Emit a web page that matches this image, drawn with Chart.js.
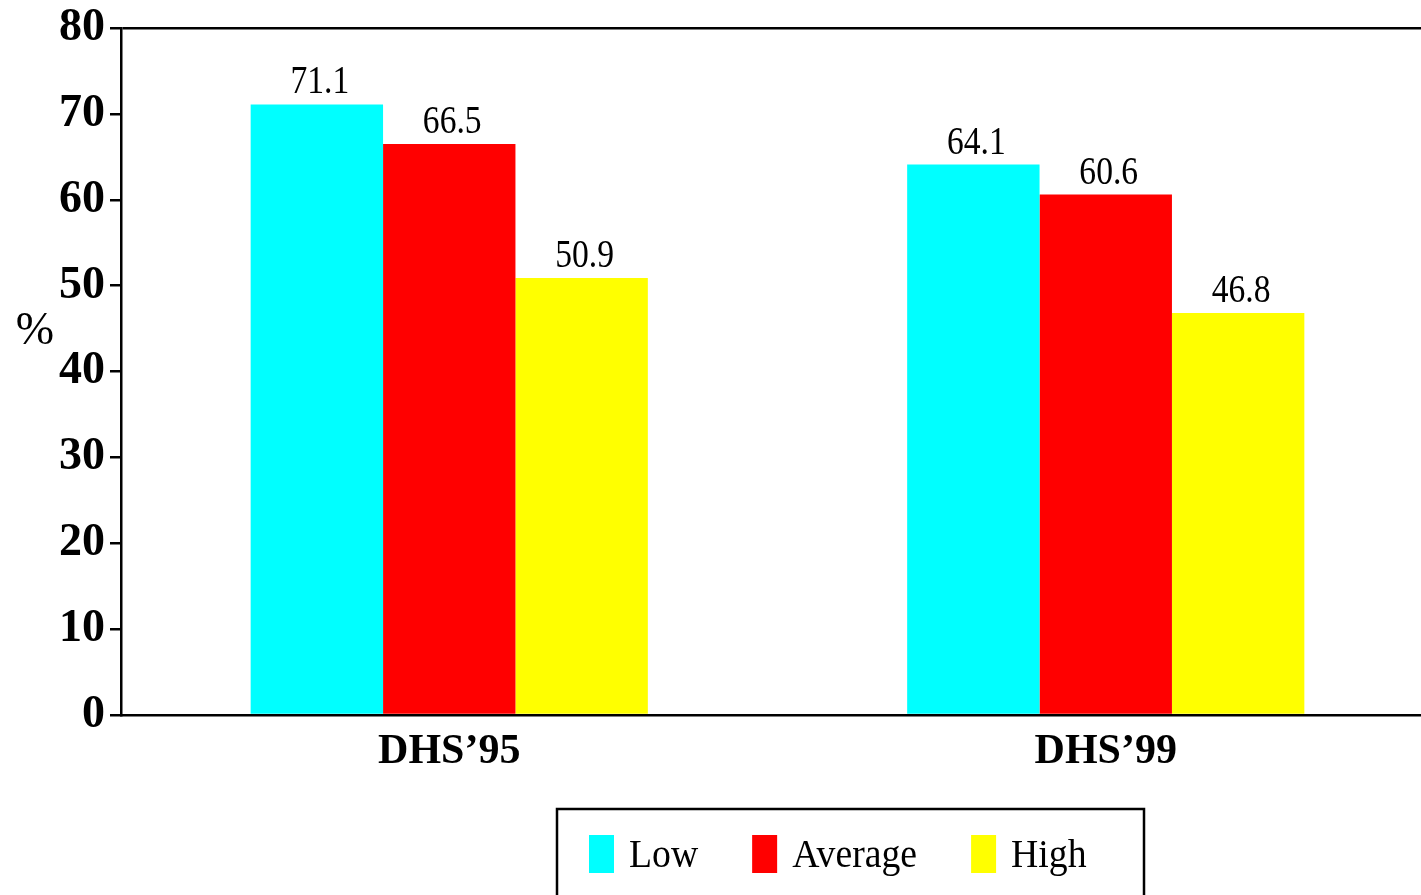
<!DOCTYPE html>
<html>
<head>
<meta charset="utf-8">
<script src="https://cdn.jsdelivr.net/npm/chart.js@4.4.1/dist/chart.umd.min.js"></script>
<style>
html,body{margin:0;padding:0;background:#fff;overflow:hidden;}
canvas{display:block;}
</style>
</head>
<body>
<canvas id="c" width="1434" height="895"></canvas>
<script>
// ---- data ----
const categories = ["DHS\u201995", "DHS\u201999"];
const seriesNames = ["Low", "Average", "High"];
const lowValues = [71.1, 64.1];
const averageValues = [66.5, 60.6];
const highValues = [50.9, 46.8];
const yTicks = [0, 10, 20, 30, 40, 50, 60, 70, 80];
const yTitle = "%";

const colors = ["#00FFFF", "#FF0000", "#FFFF00"];
const seriesValues = [lowValues, averageValues, highValues];

const SERIF = "'Liberation Serif','Times New Roman',serif";

const valueLabels = {
  id: 'valueLabels',
  afterDatasetsDraw(chart) {
    const ctx = chart.ctx;
    ctx.save();
    ctx.fillStyle = '#000';
    ctx.font = "40px " + SERIF;
    ctx.textAlign = 'center';
    ctx.textBaseline = 'alphabetic';
    chart.data.datasets.forEach((ds, i) => {
      const meta = chart.getDatasetMeta(i);
      meta.data.forEach((bar, j) => {
        ctx.save();
        ctx.translate(bar.x + 3, bar.y - 11);
        ctx.scale(0.84, 1);
        ctx.fillText(ds.data[j].toFixed(1), 0, 0);
        ctx.restore();
      });
    });
    ctx.restore();
  }
};

const extras = {
  id: 'extras',
  afterDraw(chart) {
    const ctx = chart.ctx;
    ctx.save();
    // y title
    ctx.fillStyle = '#000';
    ctx.font = "46px " + SERIF;
    ctx.textAlign = 'center';
    ctx.textBaseline = 'middle';
    ctx.fillText(yTitle, 35, 332);
    // legend
    const boxL = 557, boxT = 809, boxR = 1144, boxB = 905;
    ctx.lineWidth = 2.5;
    ctx.strokeStyle = '#000';
    ctx.strokeRect(boxL, boxT, boxR - boxL, boxB - boxT);
    ctx.font = "41px " + SERIF;
    ctx.textAlign = 'left';
    ctx.textBaseline = 'middle';
    let x = 589;
    const cy = 854;
    chart.data.datasets.forEach((ds) => {
      ctx.fillStyle = ds.backgroundColor;
      ctx.fillRect(x, cy - 19, 25, 38);
      const tx = x + 40;
      const w = ctx.measureText(ds.label).width * 0.92;
      ctx.fillStyle = '#000';
      ctx.save();
      ctx.translate(tx, cy + 2);
      ctx.scale(0.92, 1);
      ctx.fillText(ds.label, 0, 0);
      ctx.restore();
      x = tx + w + 54;
    });
    ctx.restore();
  }
};

new Chart(document.getElementById('c'), {
  type: 'bar',
  data: {
    labels: categories,
    datasets: seriesNames.map((n, i) => ({
      label: n,
      data: seriesValues[i],
      backgroundColor: colors[i],
      borderWidth: 0,
      categoryPercentage: 0.605,
      barPercentage: 1.0
    }))
  },
  options: {
    responsive: false,
    animation: false,
    devicePixelRatio: 1,
    layout: { padding: { top: 4, right: 0, left: 0, bottom: 0 } },
    plugins: { legend: { display: false }, tooltip: { enabled: false } },
    scales: {
      x: {
        grid: { display: true, drawOnChartArea: false, drawTicks: false },
        border: { display: true, color: '#000', width: 2.5 },
        ticks: { color: '#000', font: { family: SERIF, size: 42, weight: 'bold' }, padding: 12, maxRotation: 0 },
        afterFit(scale) { scale.height = 180; }
      },
      y: {
        min: 0, max: 80,
        afterBuildTicks(scale) { scale.ticks = yTicks.map(v => ({ value: v })); },
        grid: {
          drawOnChartArea: true,
          color: (c) => (c.tick && c.tick.value === 80) ? '#000' : 'rgba(0,0,0,0)',
          lineWidth: 2.5,
          tickColor: '#000',
          tickLength: 11,
          drawTicks: true
        },
        border: { display: true, color: '#000', width: 2.5 },
        ticks: { color: '#000', font: { family: SERIF, size: 46, weight: 'bold', lineHeight: 1.0 }, padding: 5 },
        afterFit(scale) { scale.width = 121; }
      }
    }
  },
  plugins: [valueLabels, extras]
});
</script>
</body>
</html>
